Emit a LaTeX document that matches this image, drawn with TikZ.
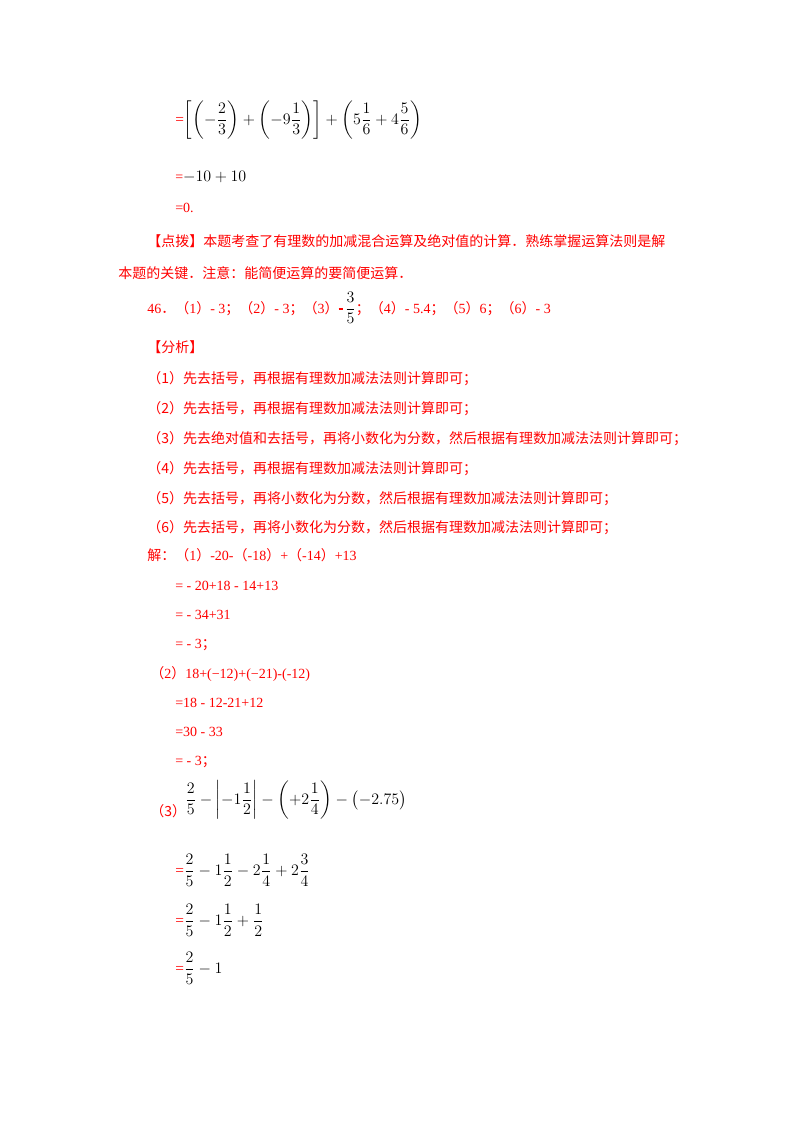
\documentclass[tikz,border=0pt]{standalone}
\usepackage{amsmath}
\usepackage{fontspec}
\setmainfont{Liberation Serif}
\newfontfamily\cjk{Noto Sans CJK SC}
\definecolor{rd}{HTML}{FF0000}
\begin{document}
\begin{tikzpicture}[x=0.75pt,y=-0.75pt,
  t/.style={anchor=base west,inner sep=0pt,font=\fontsize{10.5}{12}\selectfont,text=rd},
  m/.style={anchor=west,inner sep=0pt,font=\fontsize{11.5}{13}\selectfont}]
\useasboundingbox[fill=white] (0,0) rectangle (800,1132);
\node[m] (l1) at (175,120) {\textcolor{rd}{=}$\left[\left(-\dfrac{2}{3}\right)+\left(-9\dfrac{1}{3}\right)\right]+\left(5\dfrac{1}{6}+4\dfrac{5}{6}\right)$};
\node[t] (l2) at (175,181) {=\textcolor{black}{\fontsize{11.5}{13}\selectfont$-10+10$}};
\node[t] (l3) at (175,212) {=0.};
\node[t] (l4) at (147,246) {\cjk 【点拨】本题考查了有理数的加减混合运算及绝对值的计算．熟练掌握运算法则是解};
\node[t] (l5) at (118,278) {\cjk 本题的关键．注意：能简便运算的要简便运算．};
\node[t] (l6) at (147,313) {46{\cjk ．（}1{\cjk ）}- 3{\cjk ；（}2{\cjk ）}- 3{\cjk ；（}3{\cjk ）}\rule[2.5pt]{3pt}{1.2pt}\,\textcolor{black}{\fontsize{11.5}{13}\selectfont$\dfrac{3}{5}$}{\cjk ；（}4{\cjk ）}- 5.4{\cjk ；（}5{\cjk ）}6{\cjk ；（}6{\cjk ）}- 3};
\node[t] (a0) at (147,352) {\cjk 【分析】};
\node[t] (a1) at (147,383) {\cjk （1）先去括号，再根据有理数加减法法则计算即可；};
\node[t] (a2) at (147,413) {\cjk （2）先去括号，再根据有理数加减法法则计算即可；};
\node[t] (a3) at (147,443) {\cjk （3）先去绝对值和去括号，再将小数化为分数，然后根据有理数加减法法则计算即可；};
\node[t] (a4) at (147,473) {\cjk （4）先去括号，再根据有理数加减法法则计算即可；};
\node[t] (a5) at (147,503) {\cjk （5）先去括号，再将小数化为分数，然后根据有理数加减法法则计算即可；};
\node[t] (a6) at (147,532) {\cjk （6）先去括号，再将小数化为分数，然后根据有理数加减法法则计算即可；};
\node[t] (s0) at (147,560) {{\cjk 解：（}1{\cjk ）}-20-{\cjk （}-18{\cjk ）}+{\cjk （}-14{\cjk ）}+13};
\node[t] (s1) at (175,590) {= - 20+18 - 14+13};
\node[t] (s2) at (175,619) {= - 34+31};
\node[t] (s3) at (175,648) {= - 3{\cjk ；}};
\node[t] (s4) at (150,678) {{\cjk （}2{\cjk ）}18+(−12)+(−21)-(-12)};
\node[t] (s5) at (175,707) {=18 - 12-21+12};
\node[t] (s6) at (175,736) {=30 - 33};
\node[t] (s7) at (175,765) {= - 3{\cjk ；}};
\node[t] (s8) at (150,816) {\cjk （3）};
\node[m] (s9) at (185,800) {$\dfrac{2}{5}-\left|-1\dfrac{1}{2}\right|-\left(+2\dfrac{1}{4}\right)-\bigl(-2.75\bigr)$};
\node[m] (s10) at (175,870) {\textcolor{rd}{=}$\dfrac{2}{5}-1\dfrac{1}{2}-2\dfrac{1}{4}+2\dfrac{3}{4}$};
\node[m] (s11) at (175,920) {\textcolor{rd}{=}$\dfrac{2}{5}-1\dfrac{1}{2}+\dfrac{1}{2}$};
\node[m] (s12) at (175,968) {\textcolor{rd}{=}$\dfrac{2}{5}-1$};
\end{tikzpicture}
\end{document}
